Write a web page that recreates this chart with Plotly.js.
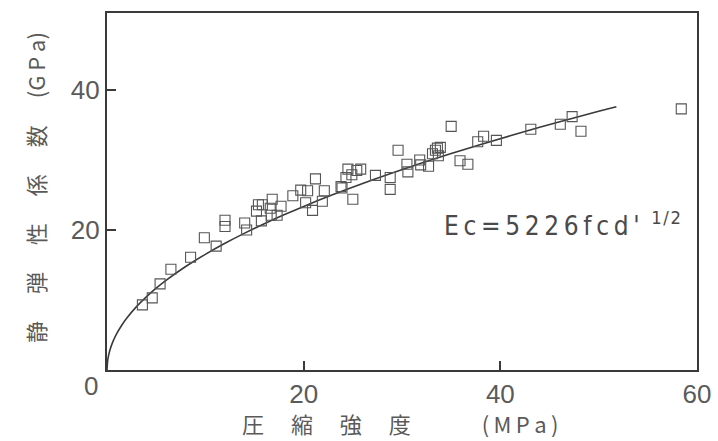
<!DOCTYPE html>
<html>
<head>
<meta charset="utf-8">
<script src="https://cdn.plot.ly/plotly-3.0.1.min.js"></script>
<style>html,body{margin:0;padding:0;background:#fff;}#chart{width:718px;height:441px;}</style>
</head>
<body>
<div id="chart"></div>
<script>
// Measured data: compressive strength (MPa) vs static elastic modulus (GPa)
var strength = [3.6, 4.6, 5.4, 6.5, 8.5, 9.9, 11.1, 12.0, 12.0, 14.0, 14.2, 15.2, 15.4, 15.8, 15.7, 16.8, 16.7, 17.3, 17.7, 16.6,
  18.9, 19.7, 20.4, 20.2, 20.9, 21.2, 22.1, 21.9, 23.8, 23.9, 24.3, 24.5, 24.9, 25.0, 25.8, 25.4, 27.3, 28.8, 28.8, 29.6,
  30.5, 30.6, 31.8, 31.9, 32.7, 33.1, 33.4, 33.7, 33.9, 33.6, 35.0, 35.9, 36.7, 37.7, 38.3, 39.6, 43.1, 46.1, 47.3, 48.2, 58.4];
var modulus = [9.3, 10.3, 12.3, 14.4, 16.1, 18.9, 17.7, 21.4, 20.5, 21.0, 20.0, 22.7, 23.6, 23.6, 21.3, 24.4, 22.1, 22.1, 23.4, 23.1,
  24.9, 25.7, 25.6, 23.9, 22.8, 27.3, 25.6, 24.1, 26.2, 26.0, 27.5, 28.7, 27.9, 24.4, 28.7, 28.5, 27.8, 27.5, 25.8, 31.4,
  29.4, 28.3, 30.0, 29.3, 29.1, 30.9, 31.4, 30.6, 31.8, 31.7, 34.8, 29.9, 29.4, 32.6, 33.4, 32.8, 34.4, 35.1, 36.2, 34.1, 37.3];
// Fitted curve Ec = 5226 * fcd'^(1/2)  (MPa -> GPa), drawn at these strengths
var curveStrength = [0, 0.1, 0.3, 0.6, 1, 1.5, 2, 3, 4, 5, 6, 8, 10, 12, 14, 16, 18, 20, 23, 26, 29, 32, 35, 38, 41, 44, 47, 50, 51.8];
var coefficient = 5226;
var curveModulus = curveStrength.map(function (f) { return coefficient * Math.sqrt(f) / 1000; });

var xTicks = [20, 40, 60];
var xTickText = ["20", "40", "60"];
var yTicks = [20, 40];
var yTickText = ["20", "40"];

var ink = "#3a3a3a";
var textInk = "#5a5a5a";

var traces = [
  {
    x: curveStrength, y: curveModulus, type: "scatter", mode: "lines",
    line: {color: ink, width: 1.6, shape: "spline"}, hoverinfo: "skip"
  },
  {
    x: strength, y: modulus, type: "scatter", mode: "markers",
    marker: {symbol: "square-open", size: 10, color: "#555", line: {width: 1.1}}
  }
];

var tickFont = {family: "Liberation Sans, Arial, sans-serif", size: 26, color: textInk};
var H = "\u200A";

var layout = {
  width: 718, height: 441,
  margin: {l: 107, r: 21, t: 13, b: 71},
  paper_bgcolor: "#fff", plot_bgcolor: "#fff",
  showlegend: false,
  xaxis: {
    range: [0, 60], tickvals: xTicks, ticktext: xTickText,
    showgrid: false, zeroline: false, showline: true, mirror: true,
    linecolor: ink, linewidth: 2.2, ticks: "inside", ticklen: 9, tickwidth: 2, tickcolor: ink,
    tickfont: tickFont
  },
  yaxis: {
    range: [0, 51], tickvals: yTicks, ticktext: yTickText,
    showgrid: false, zeroline: false, showline: true, mirror: true,
    linecolor: ink, linewidth: 2.2, ticks: "inside", ticklen: 9, tickwidth: 2, tickcolor: ink,
    tickfont: tickFont
  },
  annotations: [
    {xref: "x", yref: "y", x: 0, y: 0, xshift: -16, yshift: -16, text: "0", showarrow: false,
     font: tickFont},
    {xref: "paper", yref: "paper", x: 0.567, y: 0.41, xanchor: "left", yanchor: "middle", showarrow: false,
     text: ["E","c","=","5","2","2","6","f","c","d","'"].join(H + H) + "\u2002<sup>1" + H + "/" + H + "2</sup>",
     font: {family: "DejaVu Sans Condensed, sans-serif", size: 26, color: "#4a4a4a"}},
    {xref: "paper", yref: "paper", x: 0.225, y: -0.148, xanchor: "left", yanchor: "middle", showarrow: false,
     text: "圧\u3000 縮\u3000 強\u3000 度\u3000\u3000\u3000 (\u2009M\u2009P\u2009a\u2009)",
     font: {family: "Noto Sans CJK JP, sans-serif", size: 22, color: textInk}},
    {xref: "paper", yref: "paper", x: -0.122, y: 0.51, xanchor: "center", yanchor: "middle", showarrow: false,
     textangle: -90,
     text: "静\u3000 弾\u3000 性\u3000 係\u3000 数\u3000 (G P a)",
     font: {family: "Noto Sans CJK JP, sans-serif", size: 22, color: textInk}}
  ]
};

Plotly.newPlot("chart", traces, layout, {staticPlot: true, displayModeBar: false});
</script>
</body>
</html>
